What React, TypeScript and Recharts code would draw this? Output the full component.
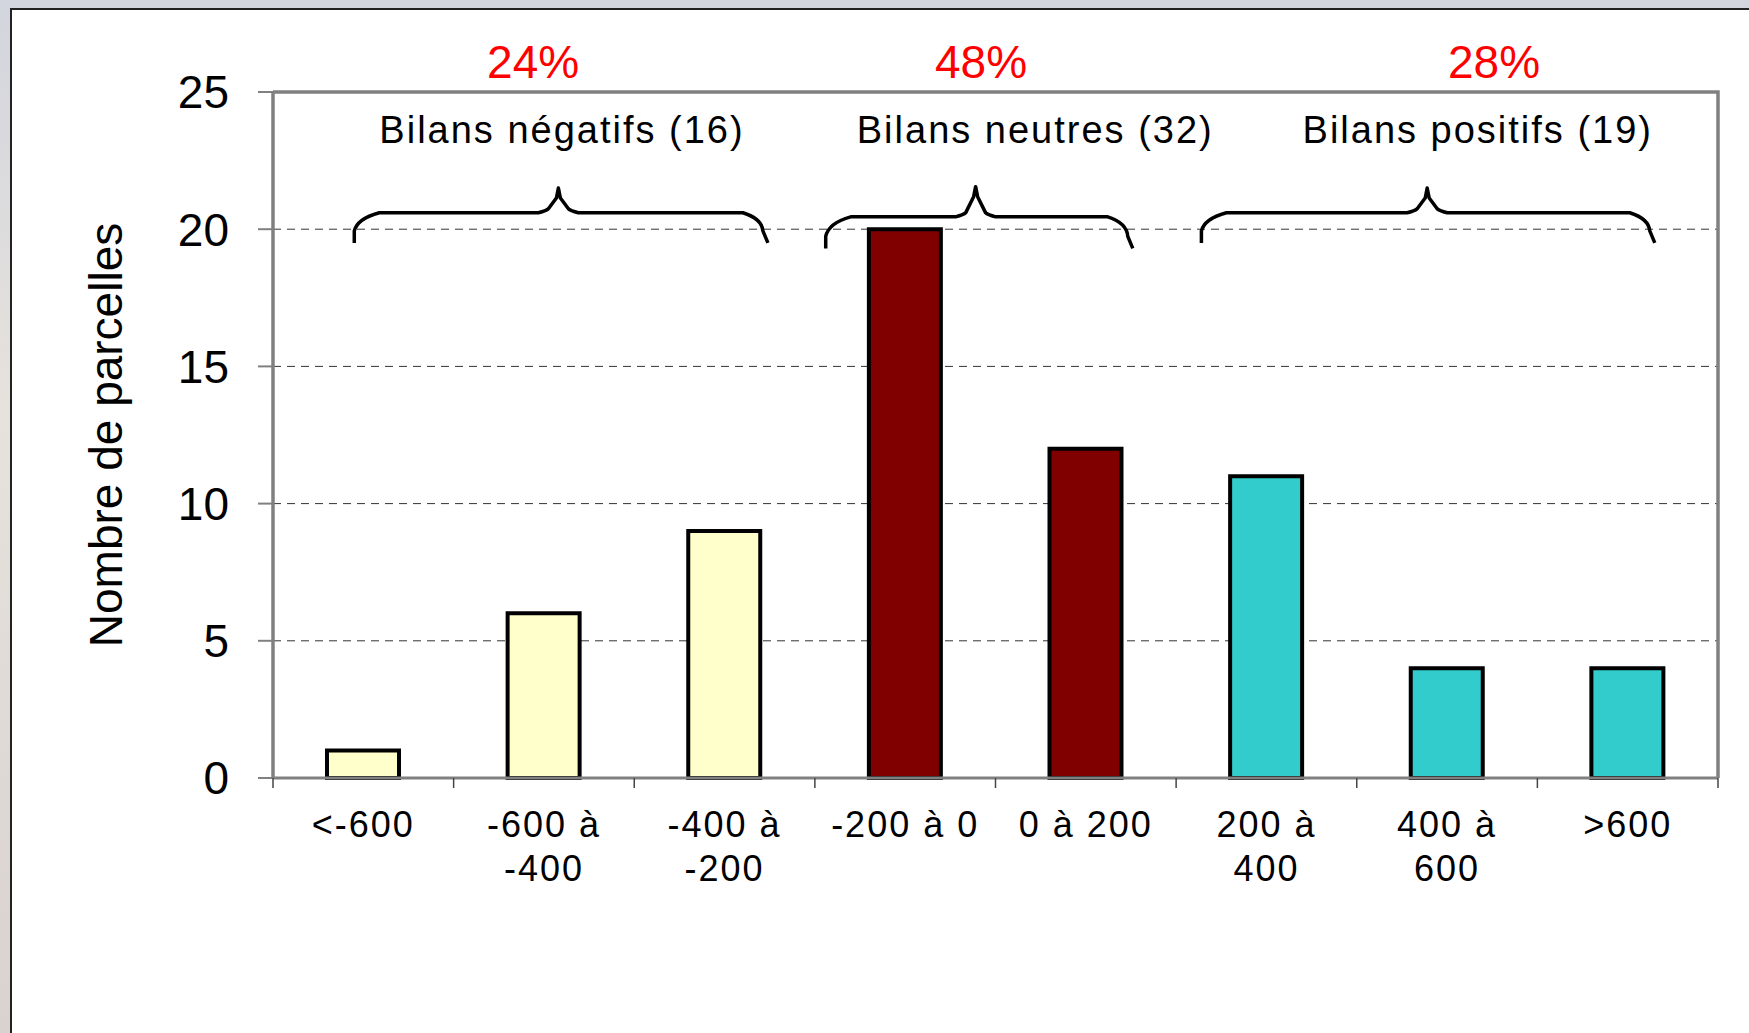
import {
  BarChart,
  Bar,
  XAxis,
  YAxis,
  CartesianGrid,
  Cell,
  ReferenceArea,
} from "recharts";

// categories and counts
const categories = ["<-600", "-600 à -400", "-400 à -200", "-200 à 0", "0 à 200", "200 à 400", "400 à 600", ">600"];
const categoryLines = [["<-600"], ["-600 à", "-400"], ["-400 à", "-200"], ["-200 à 0"], ["0 à 200"], ["200 à", "400"], ["400 à", "600"], [">600"]];
const counts = [1, 6, 9, 20, 12, 11, 4, 4];
const bilanGroup = ["neg", "neg", "neg", "neu", "neu", "pos", "pos", "pos"];
const yTicks = [0, 5, 10, 15, 20, 25];

// group annotations
const groupNames = ["Bilans négatifs (16)", "Bilans neutres (32)", "Bilans positifs (19)"];
const groupShares = ["24%", "48%", "28%"];

// brace / label placement, in category units (x) and count units (y)
const braceStart = [0.45, 3.06, 5.14];
const braceTip = [1.58, 3.89, 6.39];
const braceEnd = [2.74, 4.76, 7.65];
const braceBottom = [19.5, 19.3, 19.5];
const braceFlat = [20.6, 20.45, 20.6];
const braceTop = [21.5, 21.55, 21.5];
const nameX = [1.6, 4.22, 6.67];
const shareX = [1.44, 3.92, 6.76];
const nameY = 23.6;
const shareY = 26.1;

const colors: Record<string, string> = { neg: "#FFFFCC", neu: "#800000", pos: "#33CCCC" };

const data = categories.map((c, i) => ({ name: c, count: counts[i] }));

const W = 1749;
const H = 1033;
const margin = { top: 92, right: 31, left: 183, bottom: 145 };
const plotWidth = W - margin.left - 90 - margin.right;
const FONT = "'Liberation Sans', Arial, sans-serif";

function XTick(props: any) {
  const { x, y, payload } = props;
  const idx = categories.indexOf(payload.value);
  const bw = plotWidth / categories.length;
  const lines = categoryLines[idx] || [payload.value];
  return (
    <g>
      <line x1={x - bw / 2} x2={x - bw / 2} y1={y} y2={y + 10} stroke="#444" strokeWidth={1.5} />
      {idx === categories.length - 1 && (
        <line x1={x + bw / 2} x2={x + bw / 2} y1={y} y2={y + 10} stroke="#444" strokeWidth={1.5} />
      )}
      <text
        x={x}
        y={y + 46}
        textAnchor="middle"
        dominantBaseline="central"
        fontFamily={FONT}
        fontSize={36}
        letterSpacing={2}
        fill="#000"
      >
        {lines.map((l: string, i: number) => (
          <tspan key={i} x={x} dy={i === 0 ? 0 : 44}>
            {l}
          </tspan>
        ))}
      </text>
    </g>
  );
}

// draws braces and group labels inside the plot rect given by ReferenceArea
function Annotations(p: any) {
  const { x, y, width, height } = p;
  const yMax = yTicks[yTicks.length - 1];
  const px = (u: number) => x + (width * u) / categories.length;
  const py = (v: number) => y + (height * (yMax - v)) / yMax;
  return (
    <g>
      {groupNames.map((g, i) => {
        const x0 = px(braceStart[i]);
        const x1 = px(braceEnd[i]);
        const xt = px(braceTip[i]);
        const yt = py(braceTop[i]);
        const yf = py(braceFlat[i]);
        const yb = py(braceBottom[i]);
        const d = [
          `M ${x0} ${yb}`,
          `L ${x0} ${yb - 12}`,
          `Q ${x0 + 3} ${yf + 6} ${x0 + 25} ${yf}`,
          `L ${xt - 20} ${yf}`,
          `Q ${xt - 12} ${yf - 2} ${xt - 10} ${yf - 4}`,
          `L ${xt - 2} ${yt + 10}`,
          `L ${xt} ${yt}`,
          `L ${xt + 2} ${yt + 10}`,
          `L ${xt + 10} ${yf - 4}`,
          `Q ${xt + 12} ${yf - 2} ${xt + 20} ${yf}`,
          `L ${x1 - 25} ${yf}`,
          `Q ${x1 - 6} ${yf + 6} ${x1 - 5} ${yb - 12}`,
          `L ${x1} ${yb}`,
        ].join(" ");
        return (
          <g key={g}>
            <path d={d} fill="none" stroke="#000" strokeWidth={3.5} strokeLinejoin="round" />
            <text
              x={px(nameX[i])}
              y={py(nameY)}
              textAnchor="middle"
              dominantBaseline="central"
              fontFamily={FONT}
              fontSize={38}
              letterSpacing={2}
              fill="#000"
            >
              {g}
            </text>
            <text
              x={px(shareX[i])}
              y={py(shareY)}
              textAnchor="middle"
              dominantBaseline="central"
              fontFamily={FONT}
              fontSize={46}
              fill="#ff0000"
            >
              {groupShares[i]}
            </text>
          </g>
        );
      })}
    </g>
  );
}

function PlotFrame(p: any) {
  const { x, y, width, height } = p;
  return (
    <path
      d={`M ${x} ${y} L ${x + width} ${y} L ${x + width} ${y + height}`}
      fill="none"
      stroke="#808080"
      strokeWidth={3.5}
    />
  );
}

export default function App() {
  return (
    <div
      style={{
        position: "absolute",
        left: 0,
        top: 0,
        width: W,
        height: H,
        overflow: "hidden",
        background: "linear-gradient(180deg, #d3d5de 0%, #e6e2dc 40%, #d9d2cf 100%)",
        fontFamily: FONT,
      }}
    >
      <div
        style={{
          position: "absolute",
          left: 10,
          top: 8,
          width: W - 10,
          height: H - 8,
          background: "#fff",
          borderLeft: "2px solid #222",
          borderTop: "2px solid #222",
          boxSizing: "border-box",
        }}
      />
      <div style={{ position: "absolute", left: 0, top: 0 }}>
        <BarChart width={W} height={H} data={data} margin={margin} barCategoryGap={0}>
          <CartesianGrid
            vertical={false}
            stroke="#333"
            strokeWidth={1}
            strokeDasharray="8 6"
          />
          <XAxis
            dataKey="name"
            interval={0}
            height={110}
            tickLine={false}
            tickSize={0}
            tickMargin={0}
            axisLine={{ stroke: "#808080", strokeWidth: 3 }}
            tick={<XTick />}
          />
          <YAxis
            width={90}
            domain={[0, 25]}
            ticks={yTicks}
            interval={0}
            tickSize={15}
            tickMargin={29}
            axisLine={{ stroke: "#808080", strokeWidth: 3.5 }}
            tickLine={{ stroke: "#808080", strokeWidth: 2 }}
            tick={{ fill: "#000", fontSize: 46, fontFamily: FONT }}
            label={{
              value: "Nombre de parcelles",
              content: (p: any) => {
                const vb = p.viewBox || { x: 183, y: 92, height: 686 };
                const cx = vb.x - 77;
                const cy = vb.y + vb.height / 2;
                return (
                  <text
                    x={cx}
                    y={cy}
                    transform={`rotate(-90 ${cx} ${cy})`}
                    textAnchor="middle"
                    dominantBaseline="central"
                    fontFamily={FONT}
                    fontSize={46}
                    fill="#000"
                  >
                    Nombre de parcelles
                  </text>
                );
              },
            }}
          />
          <ReferenceArea y1={0} y2={25} ifOverflow="visible" shape={PlotFrame} />
          <Bar dataKey="count" barSize={72} stroke="#000" strokeWidth={4} isAnimationActive={false}>
            {data.map((d, i) => (
              <Cell key={d.name} fill={colors[bilanGroup[i]]} />
            ))}
          </Bar>
          <ReferenceArea y1={0} y2={25} ifOverflow="visible" shape={Annotations} />
        </BarChart>
      </div>
    </div>
  );
}
